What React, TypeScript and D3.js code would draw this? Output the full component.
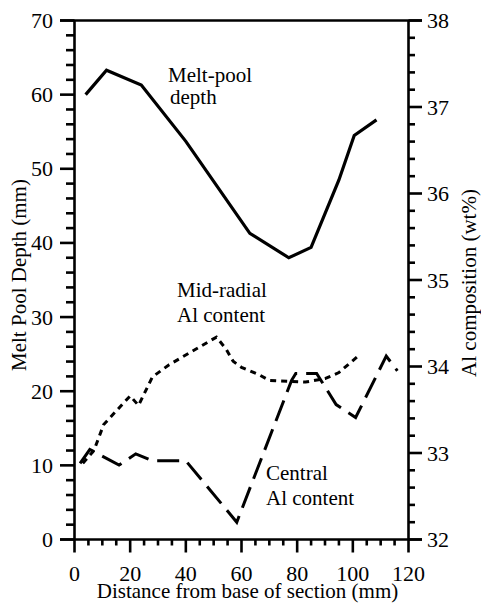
import React from "react";
import * as d3 from "d3";

// Melt-pool depth (left axis, mm)
const meltX = [4, 11.5, 24, 40, 63, 77, 85, 95, 100.5, 108.5];
const meltDepth = [60, 63.3, 61.3, 53.7, 41.3, 38, 39.4, 48.5, 54.5, 56.6];

// Mid-radial Al content (right axis, wt%)
const midX = [3, 7, 10.5, 20, 23, 28, 34, 51, 54.5, 57, 60, 66, 70, 83, 90, 95, 101.5];
const midAl = [32.88, 33.03, 33.33, 33.66, 33.55, 33.88, 34.02, 34.34, 34.2, 34.06, 33.99, 33.91, 33.84, 33.82, 33.86, 33.93, 34.11];

// Central Al content (right axis, wt%)
const cenX = [2, 5.5, 16, 22, 28, 40, 58.3, 78, 79.5, 87, 94, 101, 112, 116];
const cenAl = [32.88, 33.04, 32.86, 32.99, 32.91, 32.91, 32.2, 33.84, 33.92, 33.92, 33.56, 33.41, 34.12, 33.95];

const xMajor = [0, 20, 40, 60, 80, 100, 120];
const yLeftMajor = [0, 10, 20, 30, 40, 50, 60, 70];
const yRightMajor = [32, 33, 34, 35, 36, 37, 38];

const FONT = "Liberation Serif, DejaVu Serif, Times New Roman, serif";
const ts = (size: number): React.CSSProperties => ({ fontFamily: FONT, fontSize: size + "px" });

export default function App() {
  const W = 481, H = 605;
  const x0 = 74.5, x1 = 408.5, yTop = 20.5, yBot = 539.5;
  const x = d3.scaleLinear().domain([0, 120]).range([x0, x1]);
  const yL = d3.scaleLinear().domain([0, 70]).range([yBot, yTop]);
  const yR = d3.scaleLinear().domain([32, 38]).range([yBot, yTop]);

  const xMinor = d3.range(0, 120.001, 5).filter((v) => v % 20 !== 0);
  const yLMinor = d3.range(0, 70.001, 2).filter((v) => Math.abs(v % 10) > 1e-6);
  const yRMinor = d3.range(0, 30).map((i) => 32 + i * 0.2).filter((v) => Math.abs(v - Math.round(v)) > 1e-6);

  const lineL = d3.line<[number, number]>().x((d) => x(d[0])).y((d) => yL(d[1]));
  const lineR = d3.line<[number, number]>().x((d) => x(d[0])).y((d) => yR(d[1]));

  const melt = lineL(meltX.map((v, i) => [v, meltDepth[i]] as [number, number])) || "";
  const mid = lineR(midX.map((v, i) => [v, midAl[i]] as [number, number])) || "";
  const cen = lineR(cenX.map((v, i) => [v, cenAl[i]] as [number, number])) || "";

  const axisW = 2.6;
  return (
    <svg width={W} height={H} style={{ position: "absolute", left: 0, top: 0, background: "#fff" }}>
      <rect x={0} y={0} width={W} height={H} fill="#fff" />
      {/* frame lines */}
      <line x1={60} x2={422} y1={yTop} y2={yTop} stroke="#000" strokeWidth={axisW} />
      <line x1={60} x2={422} y1={yBot} y2={yBot} stroke="#000" strokeWidth={axisW} />
      <line x1={x0} x2={x0} y1={yTop} y2={yBot} stroke="#000" strokeWidth={axisW} />
      <line x1={x1} x2={x1} y1={yTop} y2={yBot} stroke="#000" strokeWidth={axisW} />

      {/* bottom ticks */}
      {xMajor.map((v) => (
        <g key={"xM" + v}>
          <line x1={x(v)} x2={x(v)} y1={yBot} y2={yBot + 13} stroke="#000" strokeWidth={axisW} />
          <text x={x(v)} y={581} style={ts(22)} textAnchor="middle">{v}</text>
        </g>
      ))}
      {xMinor.map((v) => (
        <line key={"xm" + v} x1={x(v)} x2={x(v)} y1={yBot} y2={yBot + 6} stroke="#000" strokeWidth={axisW} />
      ))}

      {/* left ticks */}
      {yLeftMajor.map((v) => (
        <g key={"lM" + v}>
          <line x1={60} x2={x0} y1={yL(v)} y2={yL(v)} stroke="#000" strokeWidth={axisW} />
          <text x={53} y={yL(v) + 7.5} style={ts(22)} textAnchor="end">{v}</text>
        </g>
      ))}
      {yLMinor.map((v) => (
        <line key={"lm" + v} x1={66} x2={x0} y1={yL(v)} y2={yL(v)} stroke="#000" strokeWidth={axisW} />
      ))}

      {/* right ticks */}
      {yRightMajor.map((v) => (
        <g key={"rM" + v}>
          <line x1={x1} x2={422} y1={yR(v)} y2={yR(v)} stroke="#000" strokeWidth={axisW} />
          <text x={427} y={yR(v) + 7.5} style={ts(22)} textAnchor="start">{v}</text>
        </g>
      ))}
      {yRMinor.map((v) => (
        <line key={"rm" + v} x1={x1} x2={415} y1={yR(v)} y2={yR(v)} stroke="#000" strokeWidth={axisW} />
      ))}

      {/* series */}
      <path d={melt} fill="none" stroke="#000" strokeWidth={3.2} strokeLinejoin="miter" />
      <path d={mid} fill="none" stroke="#000" strokeWidth={3} strokeDasharray="6 5" />
      <path d={cen} fill="none" stroke="#000" strokeWidth={3} strokeDasharray="22 9" />

      {/* series labels */}
      <text x={168} y={82} style={ts(21)}>Melt-pool</text>
      <text x={170} y={104} style={ts(21)}>depth</text>
      <text x={177} y={297} style={ts(21)}>Mid-radial</text>
      <text x={177} y={322} style={ts(21)}>Al content</text>
      <text x={266} y={480} style={ts(21)}>Central</text>
      <text x={266} y={505} style={ts(21)}>Al content</text>

      {/* axis titles */}
      <text x={247.5} y={598} style={ts(21)} textAnchor="middle">Distance from base of section (mm)</text>
      <text transform="translate(26,275) rotate(-90)" style={ts(21)} textAnchor="middle">Melt Pool Depth (mm)</text>
      <text transform="translate(476,283) rotate(-90)" style={ts(21)} textAnchor="middle">Al composition (wt%)</text>
    </svg>
  );
}
